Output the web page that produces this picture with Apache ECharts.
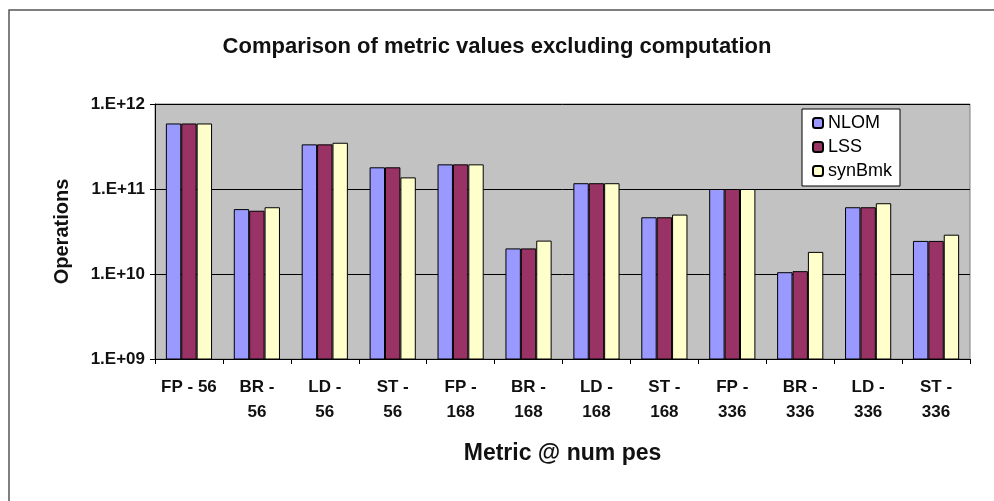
<!DOCTYPE html>
<html>
<head>
<meta charset="utf-8">
<script src="https://cdn.jsdelivr.net/npm/echarts@6/dist/echarts.min.js"></script>
<style>
  html, body { margin: 0; padding: 0; background: #fff; }
  #main { width: 994px; height: 501px; }
</style>
</head>
<body>
<div id="main"></div>
<script>
// metric @ number of pes
const categories = ['FP - 56', 'BR -\n56', 'LD -\n56', 'ST -\n56', 'FP -\n168', 'BR -\n168',
  'LD -\n168', 'ST -\n168', 'FP -\n336', 'BR -\n336', 'LD -\n336', 'ST -\n336']

const nlom = [5.9e11, 5.8e10, 3.35e11, 1.8e11, 1.95e11, 2.0e10, 1.17e11, 4.65e10, 1.0e11, 1.05e10, 6.1e10, 2.45e10]
const lss = [5.9e11, 5.55e10, 3.35e11, 1.8e11, 1.95e11, 2.0e10, 1.17e11, 4.65e10, 1.0e11, 1.08e10, 6.1e10, 2.45e10]
const synBmk = [5.9e11, 6.1e10, 3.5e11, 1.37e11, 1.95e11, 2.47e10, 1.17e11, 5.0e10, 1.0e11, 1.82e10, 6.8e10, 2.9e10]

const yMin = 1e9
const yMax = 1e12

const font = '"Liberation Sans", Arial, sans-serif'

let chart = echarts.init(document.getElementById('main'))

const barSeries = (name, data, color) => ({
  name: name,
  type: 'bar',
  data: data,
  barGap: '0%',
  barCategoryGap: '32%',
  itemStyle: { color: color, borderColor: '#000', borderWidth: 1 }
})

chart.setOption({
  animation: false,
  backgroundColor: '#fff',
  textStyle: { fontFamily: font },
  title: {
    text: 'Comparison of metric values excluding computation',
    left: 'center',
    top: 31,
    textStyle: { fontFamily: font, fontWeight: 'bold', fontSize: 22, color: '#111' }
  },
  graphic: [{
    type: 'rect',
    shape: { x: 9, y: 10, width: 1000, height: 500 },
    style: { fill: 'none', stroke: '#555', lineWidth: 1.5 },
    silent: true
  }],
  legend: {
    orient: 'vertical',
    left: 802,
    top: 109,
    backgroundColor: '#fff',
    borderColor: '#000',
    borderWidth: 1,
    padding: [5, 8, 6, 10],
    itemWidth: 10,
    itemHeight: 10,
    itemGap: 6,
    textStyle: { fontFamily: font, fontSize: 18, color: '#000' },
    data: ['NLOM', 'LSS', 'synBmk']
  },
  grid: {
    left: 155,
    right: 24,
    top: 104,
    bottom: 142,
    show: true,
    backgroundColor: '#c2c2c2',
    borderColor: '#808080',
    borderWidth: 1
  },
  xAxis: {
    type: 'category',
    data: categories,
    name: 'Metric @ num pes',
    nameLocation: 'middle',
    nameGap: 83,
    nameTextStyle: { fontFamily: font, fontWeight: 'bold', fontSize: 23, color: '#111' },
    axisLine: { lineStyle: { color: '#000', width: 1 } },
    axisTick: { show: true, length: 5, lineStyle: { color: '#000' } },
    axisLabel: {
      interval: 0,
      margin: 16,
      lineHeight: 25,
      fontFamily: font,
      fontWeight: 'bold',
      fontSize: 17,
      color: '#111'
    }
  },
  yAxis: {
    type: 'log',
    logBase: 10,
    min: yMin,
    max: yMax,
    name: 'Operations',
    nameLocation: 'middle',
    nameGap: 83,
    nameTextStyle: { fontFamily: font, fontWeight: 'bold', fontSize: 20, color: '#111' },
    axisLine: { show: true, lineStyle: { color: '#000' } },
    axisTick: { show: true, length: 5, lineStyle: { color: '#000' } },
    axisLabel: {
      margin: 10,
      fontFamily: font,
      fontWeight: 'bold',
      fontSize: 17,
      color: '#111',
      formatter: v => '1.E+' + String(Math.round(Math.log10(v))).padStart(2, '0')
    },
    splitLine: { show: true, lineStyle: { color: '#000', width: 1 } }
  },
  series: [
    barSeries('NLOM', nlom, '#9999ff'),
    barSeries('LSS', lss, '#993366'),
    barSeries('synBmk', synBmk, '#ffffcc')
  ]
})
</script>
</body>
</html>
